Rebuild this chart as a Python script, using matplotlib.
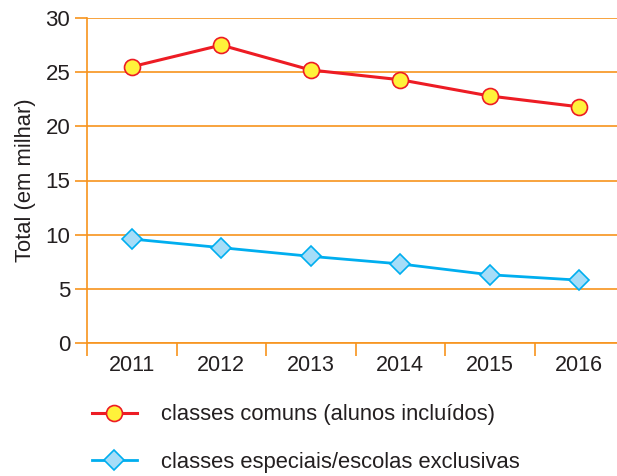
import matplotlib
matplotlib.use("Agg")
import matplotlib.pyplot as plt
from matplotlib.lines import Line2D

plt.rcParams['font.family'] = ['Liberation Sans', 'DejaVu Sans']

years = ['2011', '2012', '2013', '2014', '2015', '2016']
comuns = [25.5, 27.5, 25.2, 24.3, 22.8, 21.8]
especiais = [9.6, 8.8, 8.0, 7.3, 6.3, 5.8]
yticks = [0, 5, 10, 15, 20, 25, 30]
label_comuns = 'classes comuns (alunos incluídos)'
label_especiais = 'classes especiais/escolas exclusivas'
ylabel = 'Total (em milhar)'

ORANGE = '#F7941D'
RED = '#ED1C24'
YELLOW = '#FFF23A'
BLUE = '#00AEEF'
LBLUE = '#A6DDF8'
TXT = '#231F20'

W, H = 617, 476
fig = plt.figure(figsize=(W / 100, H / 100), dpi=100)
ax = fig.add_axes([87 / W, 133 / H, 1 - 87 / W, (458 - 133) / H])

x = list(range(len(years)))
ax.set_xlim(-0.5, -0.5 + (W - 87) / 89.5)
ax.set_ylim(0, 30)

ax.plot(x, comuns, color=RED, lw=2.2, marker='o', ms=11.5, mfc=YELLOW, mec=RED, mew=1.2,
        zorder=4, clip_on=False)
ax.plot(x, especiais, color=BLUE, lw=2.0, marker='D', ms=10.5, mfc=LBLUE, mec=BLUE, mew=1.2,
        zorder=4, clip_on=False)

ax.set_yticks(yticks)
ax.set_yticklabels([str(v) for v in yticks])
ax.yaxis.grid(True, color=ORANGE, lw=1.2)
ax.set_axisbelow(True)

ax.set_xticks(x)
ax.set_xticklabels(years)
ax.set_xticks([i - 0.5 for i in range(len(years))], minor=True)
ax.tick_params(axis='x', which='major', length=0, pad=8.5, labelsize=15.5, labelcolor=TXT)
ax.tick_params(axis='x', which='minor', length=9, width=1.2, color=ORANGE, direction='out')
ax.tick_params(axis='y', length=9, width=1.2, color=ORANGE, pad=3, labelsize=16, labelcolor=TXT)

for s in ['top', 'right']:
    ax.spines[s].set_visible(False)
for s in ['left', 'bottom']:
    ax.spines[s].set_color(ORANGE)
    ax.spines[s].set_linewidth(1.2)

ax.set_ylabel(ylabel, fontsize=15.8, color=TXT, labelpad=7)

handles = [
    Line2D([], [], color=RED, lw=2.2, marker='o', ms=11.5, mfc=YELLOW, mec=RED, mew=1.2),
    Line2D([], [], color=BLUE, lw=2.0, marker='D', ms=10.5, mfc=LBLUE, mec=BLUE, mew=1.2),
]
fig.legend(handles, [label_comuns, label_especiais], loc='center left',
           bbox_to_anchor=(92 / W, 1 - 438.5 / H), frameon=False, fontsize=15.8,
           handlelength=2.05, handletextpad=1.1, labelspacing=1.2, borderpad=0,
           borderaxespad=0, labelcolor=TXT)

fig.savefig('out.png', dpi=100)
